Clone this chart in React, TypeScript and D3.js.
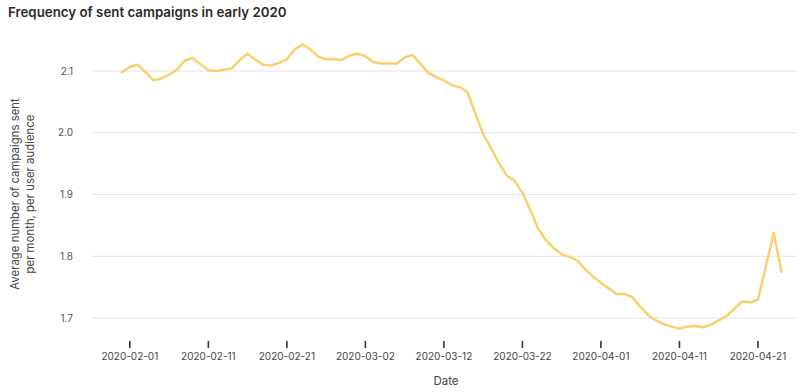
import React from "react";
import * as d3 from "d3";

const startDate = "2020-01-31";
const values: number[] = [
  2.098, 2.107, 2.110, 2.098, 2.085, 2.088, 2.094, 2.102, 2.117, 2.121,
  2.111, 2.101, 2.100, 2.102, 2.104, 2.118, 2.128, 2.118, 2.110, 2.109,
  2.113, 2.119, 2.135, 2.143, 2.135, 2.123, 2.119, 2.119, 2.118, 2.125,
  2.128, 2.124, 2.114, 2.112, 2.112, 2.112, 2.122, 2.126, 2.112, 2.097,
  2.090, 2.085, 2.077, 2.074, 2.066, 2.031, 1.998, 1.975, 1.951, 1.931,
  1.922, 1.903, 1.875, 1.845, 1.826, 1.813, 1.803, 1.799, 1.793, 1.779,
  1.767, 1.757, 1.748, 1.739, 1.739, 1.734, 1.718, 1.705, 1.696, 1.690,
  1.686, 1.683, 1.686, 1.687, 1.685, 1.689, 1.696, 1.703, 1.715, 1.727,
  1.725, 1.730, 1.783, 1.838, 1.775,
];
const xTickLabels = [
  "2020-02-01", "2020-02-11", "2020-02-21", "2020-03-02", "2020-03-12",
  "2020-03-22", "2020-04-01", "2020-04-11", "2020-04-21",
];
const yTicks = [1.7, 1.8, 1.9, 2.0, 2.1];
const title = "Frequency of sent campaigns in early 2020";
const yLabelLines = ["Average number of campaigns sent", "per month, per user audience"];
const xLabel = "Date";

const parse = d3.utcParse("%Y-%m-%d");

export default function App() {
  const W = 806, H = 392;
  const t0 = parse(startDate)!;
  const data = values.map((v, i) => ({ date: d3.utcDay.offset(t0, i), v }));
  const x = d3
    .scaleUtc()
    .domain([t0, data[data.length - 1].date])
    .range([122, 781.5]);
  const y = d3.scaleLinear().domain([1.7, 2.1]).range([318, 71]);
  const line = d3
    .line<{ date: Date; v: number }>()
    .x((d) => x(d.date))
    .y((d) => y(d.v))
    .curve(d3.curveLinear);
  const font = "Inter, 'Noto Sans', sans-serif";
  return (
    <svg
      width={W}
      height={H}
      style={{ position: "absolute", left: 0, top: 0, background: "#fff" }}
      fontFamily={font}
    >
      <text x={8} y={17} fontSize={13.3} fontWeight={600} fill="#2b2a28">
        {title}
      </text>
      {yTicks.map((t) => (
        <g key={t}>
          <line x1={92} x2={797} y1={y(t)} y2={y(t)} stroke="#e6e4df" strokeWidth={1} />
          <text x={73} y={y(t)} dy="0.35em" textAnchor="end" fontSize={10} fill="#555">
            {d3.format(".1f")(t)}
          </text>
        </g>
      ))}
      {xTickLabels.map((s) => {
        const xx = x(parse(s)!);
        return (
          <g key={s}>
            <line x1={xx} x2={xx} y1={341} y2={348} stroke="#333" strokeWidth={1.6} />
            <text x={xx} y={360} textAnchor="middle" fontSize={10} fill="#444">
              {s}
            </text>
          </g>
        );
      })}
      <text x={446} y={385} textAnchor="middle" fontSize={11.5} fill="#444">
        {xLabel}
      </text>
      <g transform="translate(0,194) rotate(-90)">
        {yLabelLines.map((l, i) => (
          <text key={i} x={0} y={19 + i * 14.5} textAnchor="middle" fontSize={11.4} fill="#444">
            {l}
          </text>
        ))}
      </g>
      <path
        d={line(data) || ""}
        fill="none"
        stroke="#f9d06e"
        strokeWidth={2.5}
        strokeLinejoin="round"
        strokeLinecap="round"
      />
    </svg>
  );
}
